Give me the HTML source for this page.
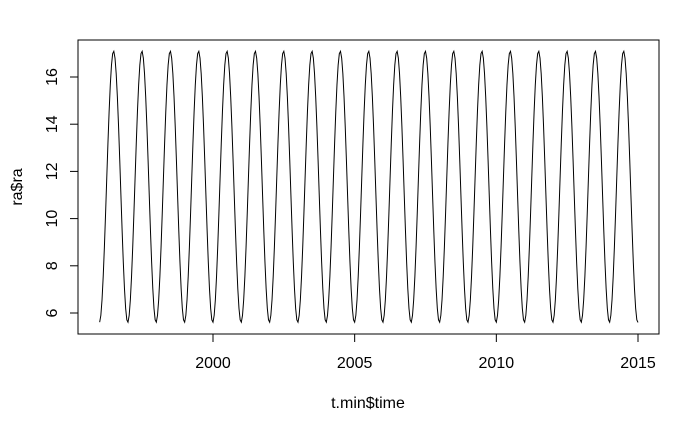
<!DOCTYPE html>
<html><head><meta charset="utf-8"><style>
html,body{margin:0;padding:0;background:#fff;}
svg{display:block;font-family:"Liberation Sans",Arial,sans-serif;}
</style></head><body>
<svg id="chart" width="700" height="432" viewBox="0 0 700 432" xmlns="http://www.w3.org/2000/svg">
<rect x="78" y="40" width="581" height="294" fill="none" stroke="#000" stroke-width="1"/>
<g id="xaxis"></g>
<g id="yaxis"></g>
<text x="368" y="408" font-size="16" text-anchor="middle">t.min$time</text>
<text transform="translate(22,187) rotate(-90)" font-size="16" text-anchor="middle">ra$ra</text>
<path id="line" fill="none" stroke="#000" stroke-width="1"/>
</svg>
<script>
var years = [1996,1997,1998,1999,2000,2001,2002,2003,2004,2005,2006,2007,2008,2009,2010,2011,2012,2013,2014];
var yearProfile = [5.61,5.90,6.56,7.55,8.79,10.21,11.71,13.18,14.53,15.66,16.50,16.99,17.09,16.80,16.14,15.15,13.91,12.49,10.99,9.52,8.17,7.04,6.20,5.71];
var endValue = 5.6;
var xTicks = [2000,2005,2010,2015];
var yTicks = [6,8,10,12,14,16];

function xs(t){ return 213 + (t-2000)*(638-213)/15; }
function ys(v){ return 313 - (v-6)*23.6; }

var NS="http://www.w3.org/2000/svg";
var d="";
years.forEach(function(yr){
  yearProfile.forEach(function(v,k){
    var t = yr + k/yearProfile.length;
    d += (d?"L":"M")+xs(t).toFixed(2)+","+ys(v).toFixed(2);
  });
});
d += "L"+xs(years[years.length-1]+1).toFixed(2)+","+ys(endValue).toFixed(2);
document.getElementById('line').setAttribute('d',d);

var xa=document.getElementById('xaxis');
var xl=document.createElementNS(NS,'line');


xl.setAttribute('x1',xs(xTicks[0]));xl.setAttribute('x2',xs(xTicks[xTicks.length-1]));
xl.setAttribute('y1',334);xl.setAttribute('y2',334);xl.setAttribute('stroke','#000');
xa.appendChild(xl);
xTicks.forEach(function(t){
  var l=document.createElementNS(NS,'line');
  
  
  l.setAttribute('x1',xs(t));l.setAttribute('x2',xs(t));l.setAttribute('y1',334);l.setAttribute('y2',342);l.setAttribute('stroke','#000');
  xa.appendChild(l);
  var tx=document.createElementNS(NS,'text');
  
  
  tx.setAttribute('x',xs(t));tx.setAttribute('y',368);tx.setAttribute('font-size','16');tx.setAttribute('text-anchor','middle');
  tx.textContent=t;xa.appendChild(tx);
});
var ya=document.getElementById('yaxis');
yTicks.forEach(function(v){
  var l=document.createElementNS(NS,'line');
  
  
  l.setAttribute('x1',70);l.setAttribute('x2',78);l.setAttribute('y1',ys(v));l.setAttribute('y2',ys(v));l.setAttribute('stroke','#000');
  ya.appendChild(l);
  var tx=document.createElementNS(NS,'text');
  
  
  tx.setAttribute('transform','translate(57,'+ys(v)+') rotate(-90)');
  tx.setAttribute('font-size','16');tx.setAttribute('text-anchor','middle');
  tx.textContent=v;ya.appendChild(tx);
});
</script>
</body></html>
